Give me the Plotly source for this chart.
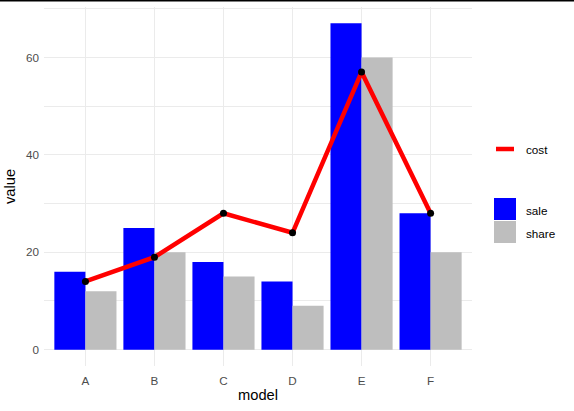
import plotly.graph_objects as go

models = ["A", "B", "C", "D", "E", "F"]
sale = [16, 25, 18, 14, 67, 28]
share = [12, 20, 15, 9, 60, 20]
cost = [14, 19, 28, 24, 57, 28]
y_ticks = [0, 20, 40, 60]

W, H = 574, 411
ml, mr, mt, mb = 44, 102, 7, 45
pw, ph = W - ml - mr, H - mt - mb

def px_x(x):
    return (x - ml) / pw

def px_y(y):
    return (H - mb - y) / ph

FONT = "Liberation Sans, Arial, sans-serif"

fig = go.Figure()
fig.add_trace(go.Bar(x=models, y=sale, name="sale", marker=dict(color="#0000FF", line=dict(width=0)), showlegend=False))
fig.add_trace(go.Bar(x=models, y=share, name="share", marker=dict(color="#BEBEBE", line=dict(width=0)), showlegend=False))
fig.add_trace(go.Scatter(x=models, y=cost, name="cost", mode="lines+markers",
                         line=dict(color="#FF0000", width=4.5),
                         marker=dict(color="black", size=7), showlegend=False))

shapes = [
    # top black border line
    dict(type="rect", xref="paper", yref="paper", x0=px_x(0), x1=px_x(W), y0=px_y(1.6), y1=px_y(0),
         fillcolor="black", line=dict(width=0), layer="above"),
    # legend keys
    dict(type="line", xref="paper", yref="paper", x0=px_x(496), x1=px_x(514), y0=px_y(149), y1=px_y(149),
         line=dict(color="#FF0000", width=4.5)),
    dict(type="rect", xref="paper", yref="paper", x0=px_x(494), x1=px_x(516), y0=px_y(220), y1=px_y(198),
         fillcolor="#0000FF", line=dict(width=0)),
    dict(type="rect", xref="paper", yref="paper", x0=px_x(494), x1=px_x(516), y0=px_y(243), y1=px_y(221),
         fillcolor="#BEBEBE", line=dict(width=0)),
]
annotations = [
    dict(text="cost", xref="paper", yref="paper", x=px_x(524), y=px_y(149), xanchor="left", yanchor="middle",
         showarrow=False, font=dict(family=FONT, size=11.7, color="black")),
    dict(text="sale", xref="paper", yref="paper", x=px_x(524), y=px_y(210), xanchor="left", yanchor="middle",
         showarrow=False, font=dict(family=FONT, size=11.7, color="black")),
    dict(text="share", xref="paper", yref="paper", x=px_x(524), y=px_y(233), xanchor="left", yanchor="middle",
         showarrow=False, font=dict(family=FONT, size=11.7, color="black")),
]

fig.update_layout(
    width=W, height=H,
    margin=dict(l=ml, r=mr, t=mt, b=mb, pad=0),
    paper_bgcolor="white", plot_bgcolor="white",
    barmode="group", bargap=0.1, bargroupgap=0,
    font=dict(family=FONT, color="black"),
    shapes=shapes, annotations=annotations,
    xaxis=dict(
        type="category", range=[-0.6, 5.6],
        showgrid=True, gridcolor="#EBEBEB", gridwidth=1.07,
        zeroline=False, showline=False, ticks="",
        tickfont=dict(family=FONT, size=11.7, color="#4D4D4D"),
        ticklabelstandoff=6,
        title=dict(text="model", font=dict(family=FONT, size=14.7, color="black"), standoff=4),
    ),
    yaxis=dict(
        range=[-3.35, 70.35], tickvals=y_ticks,
        showgrid=True, gridcolor="#EBEBEB", gridwidth=1.07,
        minor=dict(tickvals=[10, 30, 50, 70], showgrid=True, gridcolor="#EBEBEB", gridwidth=0.53),
        zeroline=False, showline=False, ticks="",
        tickfont=dict(family=FONT, size=11.7, color="#4D4D4D"),
        ticklabelstandoff=4,
        title=dict(text="value", font=dict(family=FONT, size=14.7, color="black"), standoff=6),
    ),
)

fig.write_html("out.html")
